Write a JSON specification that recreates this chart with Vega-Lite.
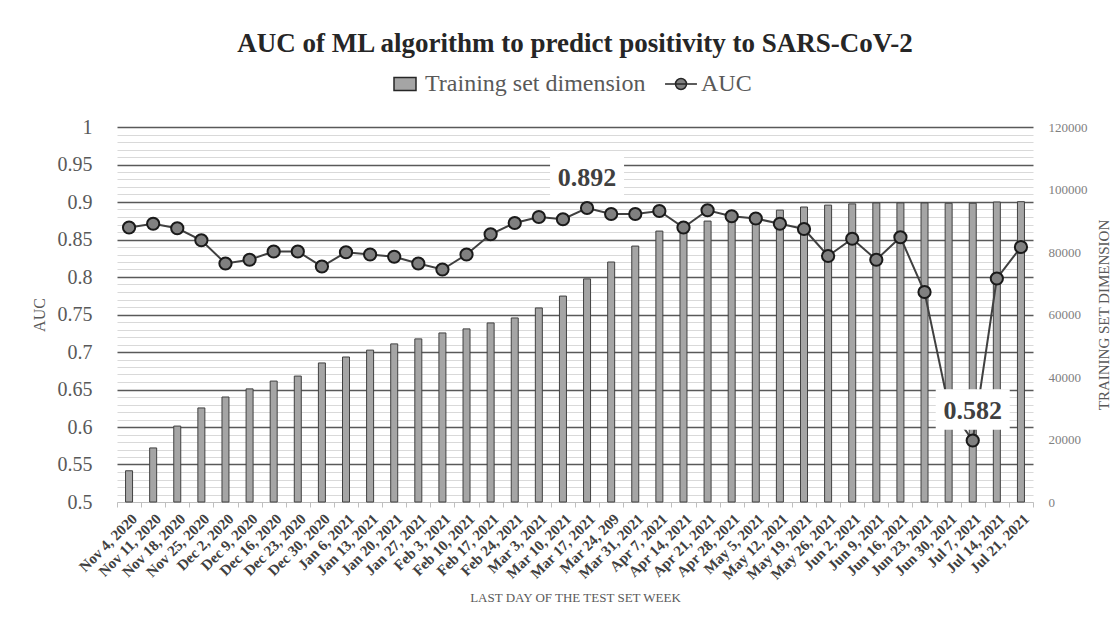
{
  "$schema": "https://vega.github.io/schema/vega-lite/v6.json",
  "width": 916,
  "height": 375,
  "autosize": {"type": "none"},
  "padding": {"left": 117, "top": 127, "right": 84, "bottom": 116},
  "background": "white",
  "config": {"view": {"stroke": null}},
  "title": {
    "text": "AUC of ML algorithm to predict positivity to SARS-CoV-2",
    "font": "Liberation Serif",
    "fontSize": 27,
    "fontWeight": "bold",
    "color": "#262626",
    "anchor": "middle",
    "offset": 14
  },
  "data": {
    "values": [
      {"week": "Nov 4, 2020", "train": 10000, "auc": 0.866},
      {"week": "Nov 11, 2020", "train": 17300, "auc": 0.871},
      {"week": "Nov 18, 2020", "train": 24300, "auc": 0.865},
      {"week": "Nov 25, 2020", "train": 30100, "auc": 0.849},
      {"week": "Dec 2, 2020", "train": 33600, "auc": 0.818},
      {"week": "Dec 9, 2020", "train": 36200, "auc": 0.823},
      {"week": "Dec 16, 2020", "train": 38700, "auc": 0.834},
      {"week": "Dec 23, 2020", "train": 40300, "auc": 0.834},
      {"week": "Dec 30, 2020", "train": 44500, "auc": 0.814},
      {"week": "Jan 6, 2021", "train": 46400, "auc": 0.833},
      {"week": "Jan 13, 2021", "train": 48600, "auc": 0.830},
      {"week": "Jan 20, 2021", "train": 50600, "auc": 0.827},
      {"week": "Jan 27, 2021", "train": 52200, "auc": 0.818},
      {"week": "Feb 3, 2021", "train": 54100, "auc": 0.810},
      {"week": "Feb 10, 2021", "train": 55400, "auc": 0.830},
      {"week": "Feb 17, 2021", "train": 57300, "auc": 0.857},
      {"week": "Feb 24, 2021", "train": 58900, "auc": 0.872},
      {"week": "Mar 3, 2021", "train": 62100, "auc": 0.880},
      {"week": "Mar 10, 2021", "train": 65900, "auc": 0.877},
      {"week": "Mar 17, 2021", "train": 71400, "auc": 0.892, "label": "0.892"},
      {"week": "Mar 24, 209", "train": 76800, "auc": 0.884},
      {"week": "Mar 31, 2021", "train": 81900, "auc": 0.884},
      {"week": "Apr 7, 2021", "train": 86700, "auc": 0.888},
      {"week": "Apr 14, 2021", "train": 88500, "auc": 0.866},
      {"week": "Apr 21, 2021", "train": 89900, "auc": 0.889},
      {"week": "Apr 28, 2021", "train": 91000, "auc": 0.881},
      {"week": "May 5, 2021", "train": 92300, "auc": 0.878},
      {"week": "May 12, 2021", "train": 93400, "auc": 0.871},
      {"week": "May 19, 2021", "train": 94400, "auc": 0.864},
      {"week": "May 26, 2021", "train": 95000, "auc": 0.828},
      {"week": "Jun 2, 2021", "train": 95400, "auc": 0.851},
      {"week": "Jun 9, 2021", "train": 95700, "auc": 0.823},
      {"week": "Jun 16, 2021", "train": 95700, "auc": 0.853},
      {"week": "Jun 23, 2021", "train": 95700, "auc": 0.780},
      {"week": "Jun 30, 2021", "train": 95600, "auc": 0.628},
      {"week": "Jul 7, 2021", "train": 95600, "auc": 0.582, "label": "0.582"},
      {"week": "Jul 14, 2021", "train": 96000, "auc": 0.798},
      {"week": "Jul 21, 2021", "train": 96100, "auc": 0.840}
    ]
  },
  "encoding": {
    "x": {
      "field": "week",
      "type": "nominal",
      "sort": null,
      "scale": {"paddingInner": 0, "paddingOuter": 0},
      "axis": {
        "title": "LAST DAY OF THE TEST SET WEEK",
        "titleFont": "Liberation Serif",
        "titleFontSize": 13,
        "titleFontWeight": "normal",
        "titleColor": "#595959",
        "titlePadding": 10,
        "labelAngle": -45,
        "labelFont": "Liberation Serif",
        "labelFontSize": 15,
        "labelFontWeight": "bold",
        "labelColor": "#404040",
        "labelPadding": 4,
        "labelOverlap": false,
        "tickBand": "extent",
        "tickColor": "#bfbfbf",
        "tickSize": 5,
        "domainColor": "#bfbfbf",
        "domainWidth": 1,
        "grid": false
      }
    }
  },
  "layer": [
    {
      "mark": {"type": "bar", "width": 7, "stroke": "#404040", "strokeWidth": 1},
      "encoding": {
        "y": {
          "field": "train",
          "type": "quantitative",
          "scale": {"domain": [0, 120000], "nice": false},
          "axis": {
            "orient": "right",
            "values": [0, 20000, 40000, 60000, 80000, 100000, 120000],
            "tickCount": 20,
            "format": "d",
            "grid": false,
            "ticks": false,
            "domain": false,
            "labelFont": "Liberation Serif",
            "labelFontSize": 13,
            "labelColor": "#808080",
            "labelPadding": 15,
            "title": "TRAINING SET DIMENSION",
            "titleAngle": 270,
            "titleFont": "Liberation Serif",
            "titleFontSize": 15,
            "titleFontWeight": "normal",
            "titleColor": "#595959",
            "titlePadding": 24
          }
        },
        "fill": {
          "datum": "Training set dimension",
          "type": "nominal",
          "scale": {"domain": ["Training set dimension", "AUC"], "range": ["#a5a5a5", "#808080"]},
          "legend": {
            "orient": "none",
            "legendX": 276,
            "legendY": -55,
            "direction": "horizontal",
            "title": null,
            "labelFont": "Liberation Serif",
            "labelFontSize": 24,
            "labelColor": "#595959",
            "labelLimit": 500,
            "symbolSize": 484,
            "labelOffset": 8,
            "columnPadding": 16,
            "symbolStrokeColor": "#262626",
            "symbolStrokeWidth": 1.5,
            "encode": {
              "symbols": {
                "update": {
                  "shape": {"signal": "datum.value === 'AUC' ? 'M-1.45,0H-0.5A0.5,0.5,0,1,1,0.5,0H1.45M0.5,0A0.5,0.5,0,1,1,-0.5,0Z' : 'M-1,-0.6H1V0.6H-1Z'"},
                  "stroke": {"value": "#262626"},
                  "strokeWidth": {"value": 1.5},
                  "opacity": {"value": 1}
                }
              }
            }
          }
        }
      }
    },
    {
      "layer": [
        {
          "mark": {"type": "line", "color": "#404040", "strokeWidth": 2},
          "encoding": {
            "y": {
              "field": "auc",
              "type": "quantitative",
              "scale": {"domain": [0.5, 1], "nice": false, "zero": false},
              "axis": {
                "orient": "left",
                "values": [0.5, 0.51, 0.52, 0.53, 0.54, 0.55, 0.56, 0.57, 0.58, 0.59, 0.6, 0.61, 0.62, 0.63, 0.64, 0.65, 0.66, 0.67, 0.68, 0.69, 0.7, 0.71, 0.72, 0.73, 0.74, 0.75, 0.76, 0.77, 0.78, 0.79, 0.8, 0.81, 0.82, 0.83, 0.84, 0.85, 0.86, 0.87, 0.88, 0.89, 0.9, 0.91, 0.92, 0.93, 0.94, 0.95, 0.96, 0.97, 0.98, 0.99, 1],
                "tickCount": 200,
                "labelExpr": "round(datum.value * 100) % 5 === 0 ? format(datum.value, '.2~f') : ''",
                "labelOverlap": false,
                "labelFont": "Liberation Serif",
                "labelFontSize": 20,
                "labelColor": "#595959",
                "labelPadding": 25,
                "ticks": false,
                "domain": false,
                "grid": true,
                "gridColor": {"condition": {"test": "round(datum.value * 100) % 5 === 0 && datum.value > 0.501", "value": "#595959"}, "value": "#d9d9d9"},
                "gridWidth": {"condition": {"test": "round(datum.value * 100) % 5 === 0 && datum.value > 0.501", "value": 1.5}, "value": 1},
                "title": "AUC",
                "titleFont": "Liberation Serif",
                "titleFontSize": 16,
                "titleFontWeight": "normal",
                "titleColor": "#595959",
                "titlePadding": 10
              }
            }
          }
        },
        {
          "mark": {"type": "point", "filled": true, "size": 150, "stroke": "#1a1a1a", "strokeWidth": 2, "opacity": 1},
          "encoding": {
            "y": {"field": "auc", "type": "quantitative"},
            "fill": {"datum": "AUC", "type": "nominal"}
          }
        },
        {
          "transform": [{"filter": "datum.label != null"}],
          "mark": {"type": "point", "shape": "M-1,-0.55H1V0.55H-1Z", "size": 5476, "filled": true, "fill": "white", "opacity": 1, "strokeWidth": 0, "yOffset": -31},
          "encoding": {"y": {"field": "auc", "type": "quantitative"}}
        },
        {
          "transform": [{"filter": "datum.label != null"}],
          "mark": {"type": "text", "font": "Liberation Serif", "fontSize": 26, "fontWeight": "bold", "color": "#404040", "dy": -30, "baseline": "middle"},
          "encoding": {
            "y": {"field": "auc", "type": "quantitative"},
            "text": {"field": "label"}
          }
        }
      ]
    }
  ],
  "resolve": {"scale": {"y": "independent"}}
}
